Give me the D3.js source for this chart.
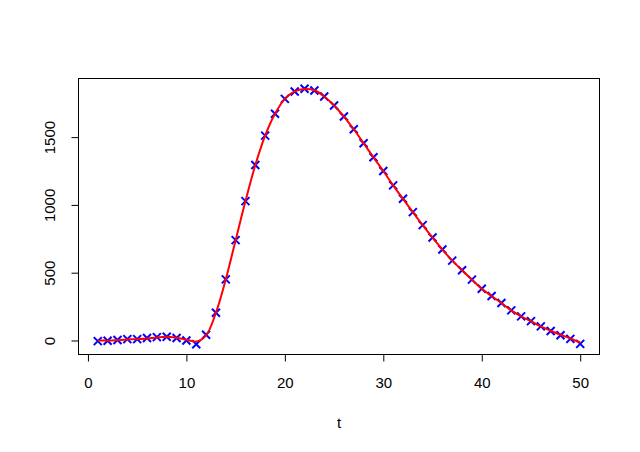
<!DOCTYPE html>
<html>
<head>
<meta charset="utf-8">
<script src="https://cdn.jsdelivr.net/npm/d3@7"></script>
<style>
  body { margin: 0; background: #fff; }
  text { font-family: Arial, "Liberation Sans", sans-serif; fill: #000; }
</style>
</head>
<body>
<svg id="chart"></svg>
<script>
// observed counts at each t (blue crosses)
const t_values = d3.range(1, 51);
const observed = [-5, -2, 4, 10, 10, 18, 25, 28, 18, 0,
                  -28, 42, 205, 451, 740, 1028, 1294, 1511, 1672, 1782,
                  1837, 1857, 1844, 1800, 1733, 1652, 1558, 1455, 1351, 1250,
                  1144, 1045, 947, 851, 759, 671, 589, 518, 449, 382,
                  328, 276, 222, 178, 143, 104, 70, 39, 12, -25];
// fitted curve (red line)
const fitted = [0, 0, 3, 7, 10, 15, 22, 27, 20, 6,
                -8, 38, 205, 451, 740, 1028, 1294, 1511, 1672, 1782,
                1837, 1855, 1846, 1800, 1733, 1652, 1558, 1455, 1351, 1250,
                1144, 1045, 947, 851, 759, 671, 589, 518, 449, 382,
                328, 276, 222, 178, 143, 104, 72, 42, 15, -15];
const x_ticks = [0, 10, 20, 30, 40, 50];
const y_ticks = [0, 500, 1000, 1500];
const x_label = 't';

const width = 640, height = 452;
const margin = {top: 78.5, right: 40.5, bottom: 97.5, left: 78.5};

const svg = d3.select('#chart')
    .attr('width', width)
    .attr('height', height);

const inner_width = width - margin.left - margin.right;
const inner_height = height - margin.top - margin.bottom;

const chart = svg.append('g')
    .attr('transform', `translate(${margin.left}, ${margin.top})`);

// R style 4% padding of the data range
const pad = (ext) => {
    const r = ext[1] - ext[0];
    return [ext[0] - 0.04 * r, ext[1] + 0.04 * r];
};

const xscale = d3.scaleLinear()
    .domain(pad(d3.extent(t_values)))
    .range([0, inner_width]);

const yscale = d3.scaleLinear()
    .domain(pad(d3.extent(observed)))
    .range([inner_height, 0]);

const font_size = '15px';

// x axis
const xaxis_group = chart.append('g')
    .attr('transform', `translate(0, ${inner_height})`)
    .call(d3.axisBottom(xscale).tickValues(x_ticks).tickFormat(d3.format('d'))
        .tickSizeOuter(0).tickSize(7));
xaxis_group.select('.domain').remove();
xaxis_group.selectAll('text')
    .style('font-size', font_size)
    .attr('dy', null)
    .attr('y', 33.5);

// y axis, labels rotated like R
const yaxis_group = chart.append('g')
    .call(d3.axisLeft(yscale).tickValues(y_ticks).tickFormat(d3.format('d'))
        .tickSizeOuter(0).tickSize(7));
yaxis_group.select('.domain').remove();
yaxis_group.selectAll('text')
    .style('font-size', font_size)
    .attr('text-anchor', 'middle')
    .attr('transform', 'rotate(-90)')
    .attr('dy', null)
    .attr('x', 0)
    .attr('y', -23.5);

chart.selectAll('.tick line')
    .attr('stroke', '#000');

// box
chart.append('rect')
    .attr('x', 0)
    .attr('y', 0)
    .attr('width', inner_width)
    .attr('height', inner_height)
    .attr('fill', 'none')
    .attr('stroke', '#000')
    .attr('stroke-width', 1);

// x label
svg.append('text')
    .style('font-size', font_size)
    .attr('text-anchor', 'middle')
    .attr('x', margin.left + inner_width / 2)
    .attr('y', 428)
    .text(x_label);

// crosses
const s = 4;
chart.selectAll('.pt')
    .data(t_values.map((t, i) => ({t: t, v: observed[i]})))
    .join('path')
    .attr('class', 'pt')
    .attr('d', d => {
        const cx = xscale(d.t), cy = yscale(d.v);
        return `M${cx - s},${cy - s}L${cx + s},${cy + s}M${cx - s},${cy + s}L${cx + s},${cy - s}`;
    })
    .attr('stroke', '#0000ff')
    .attr('stroke-width', 2)
    .attr('fill', 'none');

// fitted line
const line = d3.line()
    .x((d, i) => xscale(t_values[i]))
    .y(d => yscale(d))
    .curve(d3.curveCatmullRom);

chart.append('path')
    .datum(fitted)
    .attr('d', line)
    .attr('fill', 'none')
    .attr('stroke', '#ff0000')
    .attr('stroke-width', 2);
</script>
</body>
</html>
